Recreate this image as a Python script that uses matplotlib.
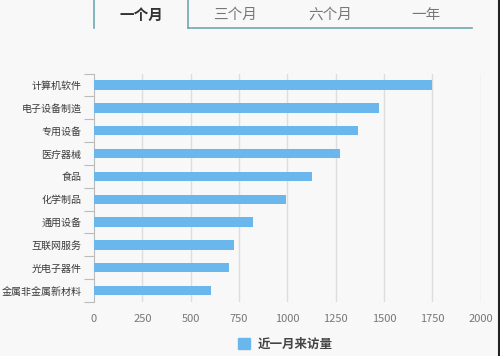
import numpy as np
import matplotlib
matplotlib.use("Agg")
import matplotlib.pyplot as plt
from matplotlib.lines import Line2D
from matplotlib.patches import Patch

plt.rcParams['font.family'] = ['Noto Sans CJK SC', 'DejaVu Sans']

categories = ["计算机软件", "电子设备制造", "专用设备", "医疗器械", "食品",
              "化学制品", "通用设备", "互联网服务", "光电子器件", "金属非金属新材料"]
visits = [1748, 1475, 1367, 1274, 1128, 992, 823, 726, 698, 605]
xticks = [0, 250, 500, 750, 1000, 1250, 1500, 1750, 2000]
tabs = ["一个月", "三个月", "六个月", "一年"]
legend_label = "近一月来访量"

bg = "#f8f8f8"
bar_color = "#6ab7ee"
grid_color = "#dddddd"
tab_line = "#6fa9b3"

fig = plt.figure(figsize=(5, 3.56), dpi=100, facecolor=bg)
ax = fig.add_axes([0.188, 0.1517, 0.773, 0.6416], facecolor=bg)

y = np.arange(len(categories))
ax.barh(y, visits, height=0.41, color=bar_color, zorder=3)

ax.set_xlim(0, 2000)
ax.set_ylim(len(categories) - 0.5, -0.5)
ax.set_xticks(xticks)
ax.set_xticklabels([str(v) for v in xticks], fontsize=8, color="#777777")
ax.tick_params(axis="x", length=0, pad=9)

ax.set_yticks(y)
ax.set_yticklabels(categories, fontsize=7.2, color="#3a3a3a")
ax.set_yticks(np.arange(-0.5, len(categories)), minor=True)
ax.tick_params(axis="y", which="major", length=0, pad=9)
ax.tick_params(axis="y", which="minor", length=7, color="#bbbbbb", width=0.8)

for v in xticks[1:]:
    ax.axvline(v, color=grid_color, lw=1, zorder=1)

for side in ["top", "right", "bottom"]:
    ax.spines[side].set_visible(False)
ax.spines["left"].set_color("#bbbbbb")
ax.spines["left"].set_linewidth(0.8)

# legend
leg = fig.legend(handles=[Patch(color=bar_color)], labels=[legend_label],
                 loc="center", bbox_to_anchor=(0.57, 0.032), frameon=False,
                 handlelength=1.0, handleheight=1.0, handletextpad=0.6,
                 prop={"size": 9, "weight": "bold"})
for t in leg.get_texts():
    t.set_color("#444444")

# tab header
H, W = 356, 500
fig.add_artist(Line2D([94 / W, 94 / W], [1, 1 - 28 / H], color=tab_line, lw=1.2))
fig.add_artist(Line2D([188 / W, 188 / W], [1, 1 - 28 / H], color=tab_line, lw=1.2))
fig.add_artist(Line2D([188 / W, 472 / W], [1 - 28 / H, 1 - 28 / H], color=tab_line, lw=1.2))
tab_x = [141, 235, 330, 426]
for i, (label, tx) in enumerate(zip(tabs, tab_x)):
    fig.text(tx / W, 1 - 15 / H, label, ha="center", va="center",
             fontsize=10.5, color="#333333" if i == 0 else "#777777",
             fontweight="bold" if i == 0 else "normal")

fig.add_artist(Line2D([0.997, 0.997], [0, 1], color="#222222", lw=1.5))

fig.savefig("out.png", dpi=100, facecolor=bg)
